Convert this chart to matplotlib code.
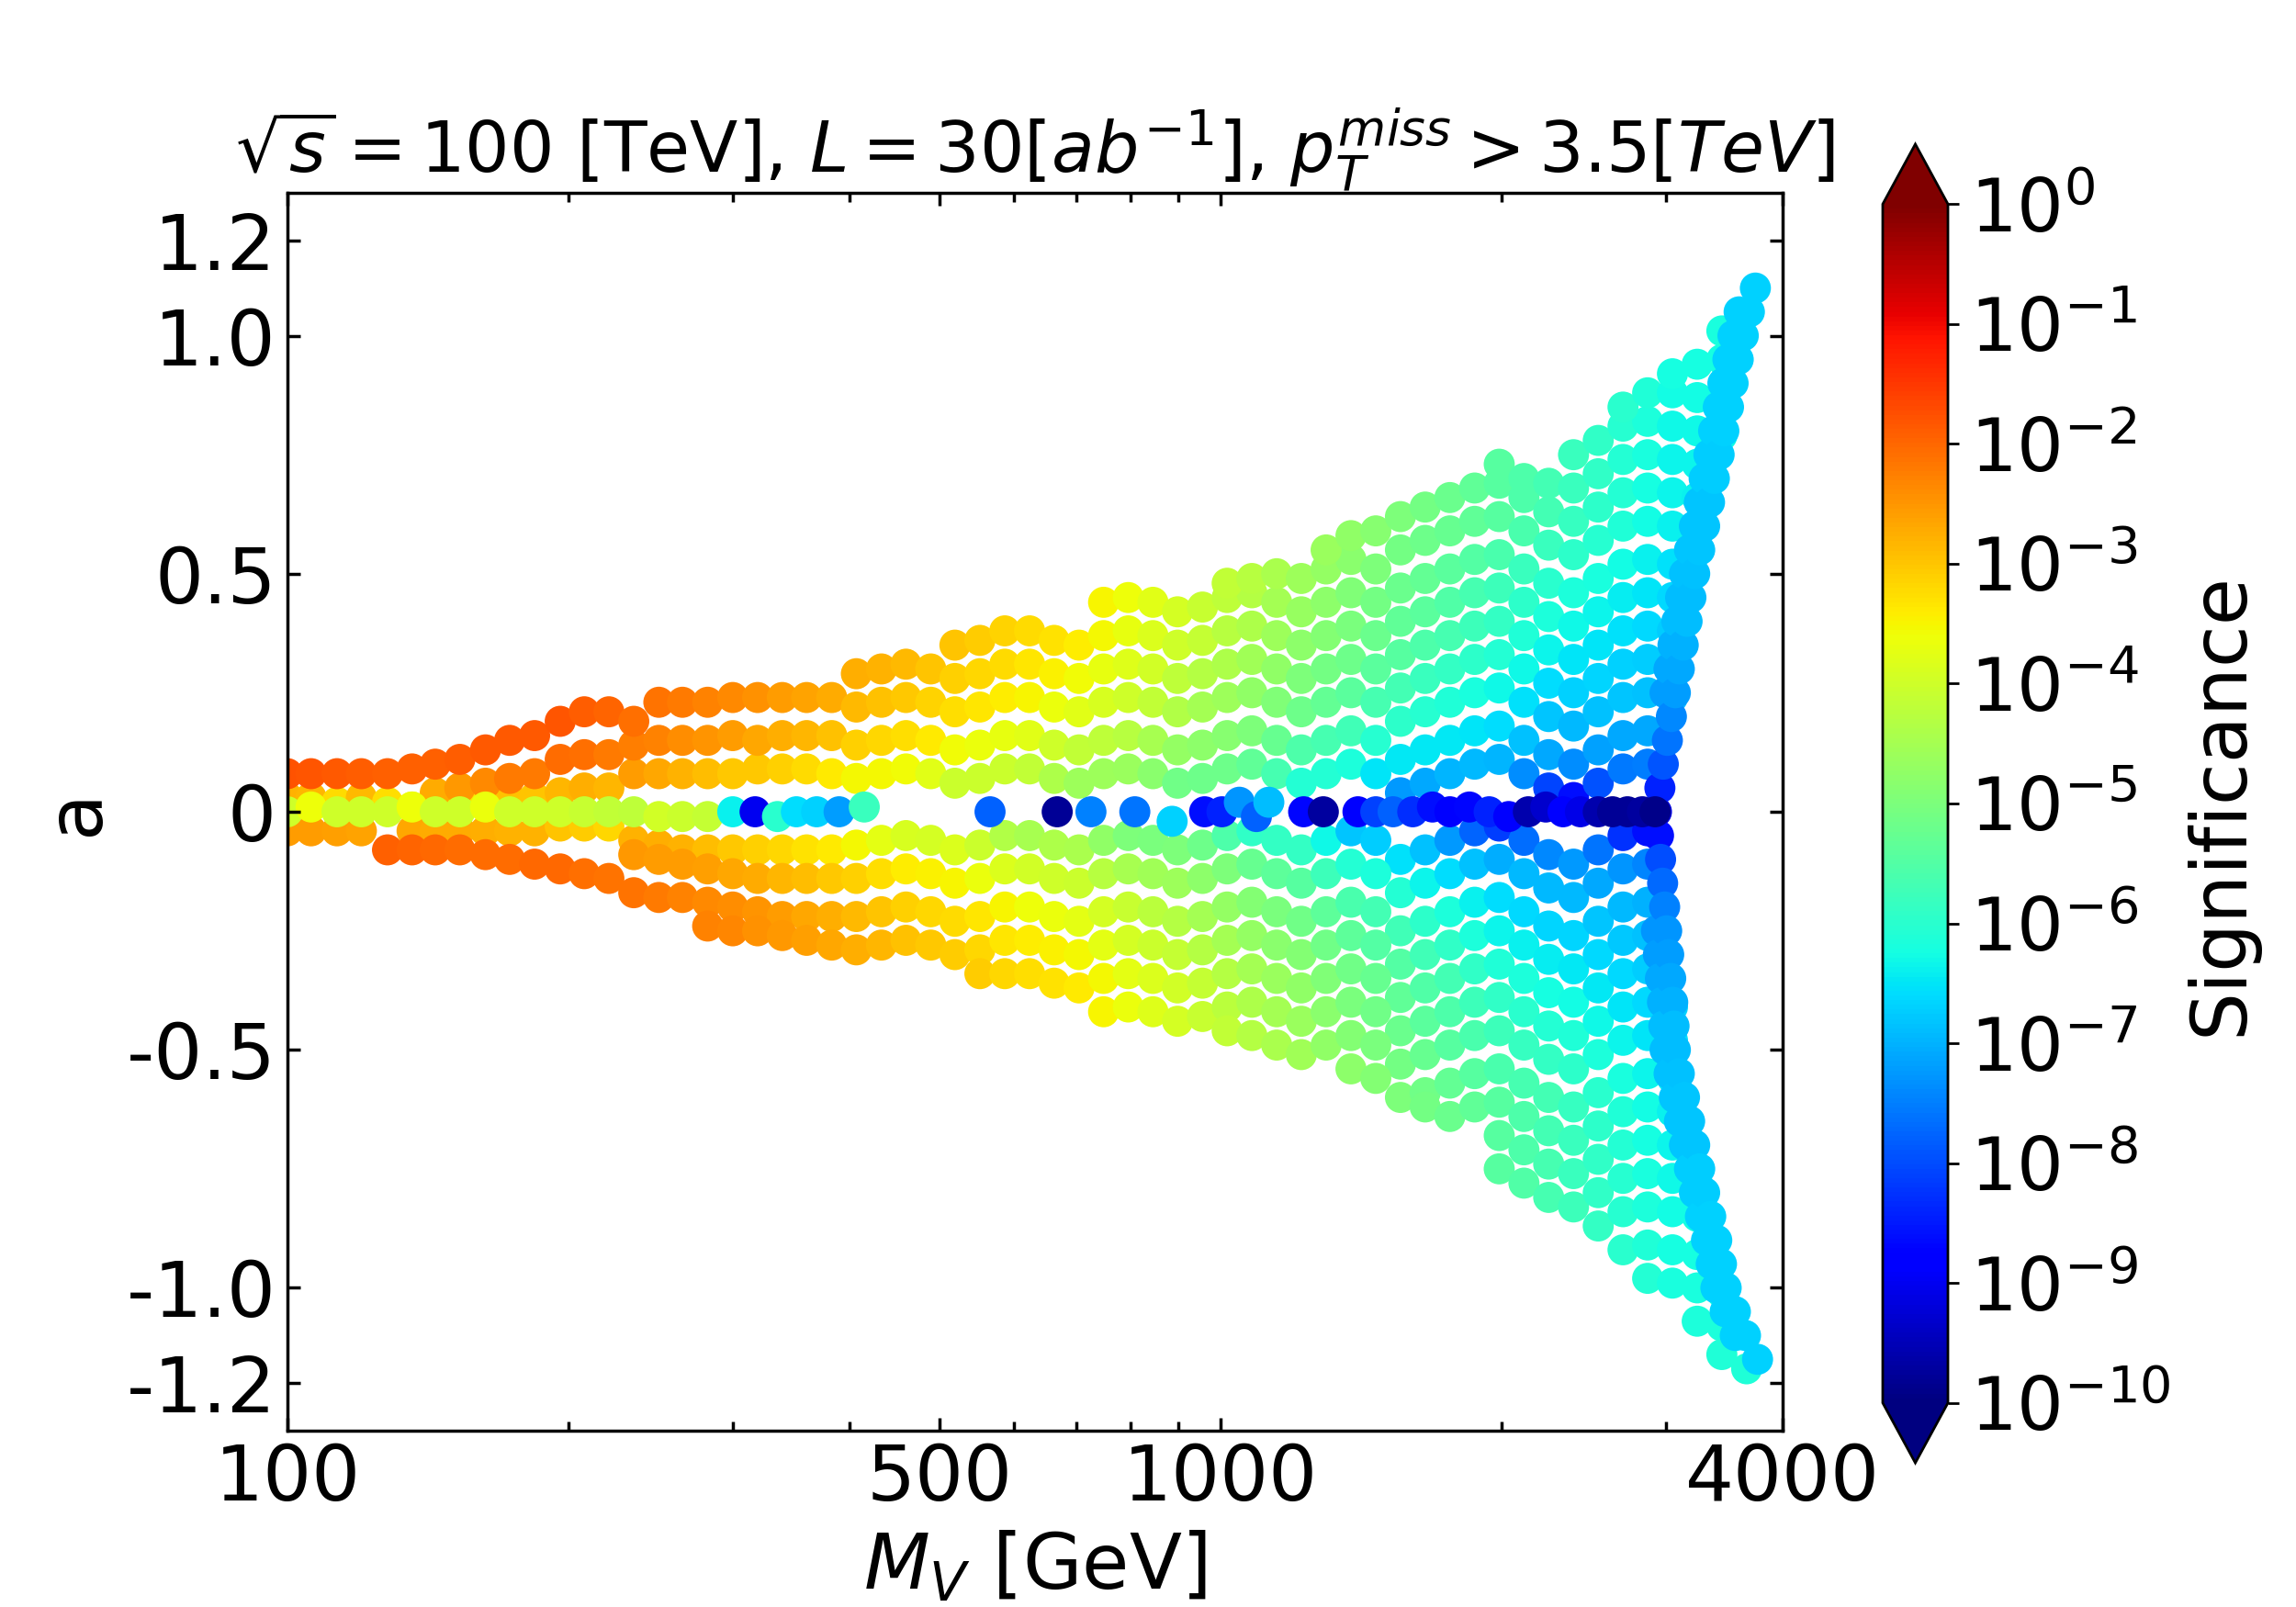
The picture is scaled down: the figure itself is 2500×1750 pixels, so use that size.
import numpy as np
import matplotlib
matplotlib.use("Agg")
import matplotlib.pyplot as plt
from matplotlib.colors import LogNorm
from matplotlib.ticker import NullFormatter, FixedLocator

# ---------------- data ----------------
# M_V scan columns [GeV]
M_cols = [100, 106, 113, 120, 128, 136, 144, 153, 163, 173, 184, 196, 208, 221, 235,
          250, 265, 282, 300, 319, 339, 360, 383, 407, 433, 460, 489, 519, 552, 587,
          624, 663, 705, 749, 796, 846, 899, 956, 1016, 1080, 1148, 1220, 1297, 1379, 1466,
          1558, 1656, 1760, 1871, 1988, 2113, 2246, 2388, 2538, 2698, 2867, 3048, 3240, 3443, 3660]

# rows of points: first scan column index, then a values (in units of 0.01)
a_u01 = [3, 3, 2, 3, 2, 1, 1, 2, 2, 3, 3, 4, 5, 5, 8, 8, 8, 8, 8, 9, 9, 9, 8, 7, 8, 9, 8, 6, 7, 9, 9, 7, 6, 8, 9, 8, 6, 7, 9, 10, 8, 6, 8, 10, 8, 4, 6, 8, 10, 11, 8, 5, 3, 6, 9, 10]
a_u02 = [4, 5, 6, 7, 8, 11, 12, 12, 14, 15, 15, 15, 16, 15, 16, 16, 16, 14, 15, 16, 15, 13, 14, 16, 16, 14, 13, 15, 16, 15, 13, 14, 16, 17, 15, 13, 15, 17, 15, 11, 13, 15, 17, 18, 15, 12, 10, 13, 16, 17]
a_u03 = [8, 8, 8, 8, 8, 9, 10, 11, 13, 15, 16, 19, 21, 21, 19, 23, 23, 23, 24, 24, 24, 24, 24, 22, 23, 24, 23, 21, 22, 24, 24, 22, 21, 23, 24, 23, 21, 22, 24, 25, 23, 21, 23, 25, 23, 19, 21, 23, 25, 26, 23, 20, 18, 21, 24, 25, 24]
a_u04 = [29, 30, 31, 30, 28, 29, 31, 31, 29, 28, 30, 31, 30, 28, 29, 31, 32, 30, 28, 30, 32, 30, 26, 28, 30, 32, 33, 30, 27, 25, 28, 31, 32, 31]
a_u05 = [35, 36, 38, 38, 36, 35, 37, 38, 37, 35, 36, 38, 39, 37, 35, 37, 39, 37, 33, 35, 37, 39, 40, 37, 34, 32, 35, 38, 39, 38]
a_u06 = [44, 45, 44, 42, 43, 45, 46, 44, 42, 44, 46, 44, 40, 42, 44, 46, 47, 44, 41, 39, 42, 45, 46, 45]
a_u07 = [48, 49, 50, 49, 51, 53, 51, 47, 49, 51, 53, 54, 51, 48, 46, 49, 52, 53, 52]
a_u08 = [55, 58, 59, 55, 57, 59, 61, 62, 59, 56, 54, 57, 60, 61, 60, 59]
a_u09 = [62, 64, 66, 68, 69, 66, 63, 61, 64, 67, 68, 67, 66]
a_u10 = [73, 70, 69, 68, 71, 74, 75, 74, 73]
a_u11 = [75, 78, 81, 82, 81, 80, 79]
a_u12 = [85, 88, 88, 87, 86]
a_u13 = [92, 94, 95]
a_u14 = [101]
start_u = [0, 6, 0, 23, 27, 33, 38, 42, 45, 49, 52, 54, 56, 58]

a_l01 = [-4, -4, -4, -4, -4, -4, -3, -3, -3, -6, -7, -8, -8, -8, -8, -8, -8, -8, -7, -6, -5, -6, -8, -7, -5, -5, -7, -8, -6, -5, -6, -8, -7, -5, -4, -6, -8, -6, -4, -6, -10, -8, -6, -4, -3, -6, -9, -11, -8, -5, -4]
a_l02 = [-9, -10, -11, -12, -13, -14, -14, -14, -14, -14, -13, -12, -13, -15, -14, -12, -12, -14, -15, -13, -12, -13, -15, -14, -12, -11, -13, -15, -13, -11, -13, -17, -15, -13, -11, -10, -13, -16, -18, -15, -12, -11]
a_l03 = [-4, -4, -4, -4, -8, -8, -8, -8, -9, -10, -11, -12, -13, -14, -17, -18, -18, -19, -20, -21, -22, -22, -22, -22, -21, -20, -21, -23, -22, -20, -20, -22, -23, -21, -20, -21, -23, -22, -20, -19, -21, -23, -21, -19, -21, -25, -23, -21, -19, -18, -21, -24, -26, -23, -20, -19]
a_l04 = [-24, -25, -25, -26, -27, -28, -29, -28, -27, -28, -30, -29, -27, -27, -29, -30, -28, -27, -28, -30, -29, -27, -26, -28, -30, -28, -26, -28, -32, -30, -28, -26, -25, -28, -31, -33, -30, -27, -26]
a_l05 = [-34, -34, -34, -36, -37, -35, -34, -35, -37, -36, -34, -33, -35, -37, -35, -33, -35, -39, -37, -35, -33, -32, -35, -38, -40, -37, -34, -33]
a_l06 = [-42, -41, -42, -44, -43, -41, -40, -42, -44, -42, -40, -42, -46, -44, -42, -40, -39, -42, -45, -47, -44, -41, -40, -41]
a_l07 = [-46, -47, -49, -51, -49, -47, -49, -53, -51, -49, -47, -46, -49, -52, -54, -51, -48, -47, -48]
a_l08 = [-54, -56, -60, -59, -57, -55, -54, -57, -60, -62, -59, -56, -55, -56]
a_l09 = [-62, -64, -62, -61, -64, -67, -69, -66, -63, -62, -63]
a_l10 = [-68, -71, -74, -76, -73, -70, -69, -70]
a_l11 = [-75, -78, -81, -83, -80, -77, -76, -77, -78]
a_l12 = [-87, -84, -83, -84, -85]
a_l13 = [-92, -91, -92, -93]
a_l14 = [-98, -99, -100, -101]
a_l15 = [-107, -108]
a_l16 = [-114, -117]
start_l = [5, 14, 0, 17, 28, 33, 38, 43, 46, 49, 49, 53, 54, 55, 57, 58]

a_c0 = [0, 1, 0, 0, 0, 1, 0, 0, 1, 0, 0, 0, 0, 0, 0, -1, -1, -1]
start_c0 = 0

# isolated points along a = 0 (M, a in 0.01, log10 significance)
center_M = [300, 317, 335, 351, 369, 390, 415, 566, 668, 726, 809, 887, 961, 1003, 1047, 1092, 1126,
            1227, 1288, 1403, 1466, 1530, 1606, 1686, 1760, 1847, 1939, 2035, 2136, 2230, 2327,
            2429, 2538, 2629, 2728, 2830, 2920]
center_a = [0, 0, -1, 0, 0, 0, 1, 0, 0, 0, 0, -2, 0, 0, 2, -1, 2, 0, 0, 0, 0, 0, 0, 1, 0, 1, 0,
            -1, 0, 1, 0, 0, 0, 0, 0, 0, 0]
center_exp = [-6.4, -9.0, -6.0, -6.6, -6.7, -7.2, -5.8, -7.8, -9.8, -7.5, -7.6, -6.7, -8.6, -8.4,
              -7.3, -7.8, -6.9, -8.7, -9.7, -8.8, -8.1, -7.8, -8.3, -8.6, -8.9, -8.7, -8.4, -8.9,
              -9.6, -9.3, -8.8, -9.1, -9.6, -9.8, -9.8, -9.7, -9.9]

# right-hand boundary of the scan (outer line)
edge_up_M = [2930, 2955, 2980, 3010, 3040, 3070, 3100, 3130, 3160, 3190, 3220, 3260, 3300, 3340,
             3380, 3420, 3460, 3500, 3540, 3585, 3630, 3685, 3740]
edge_up_a = [0, 5, 10, 15, 20, 25, 30, 35, 40, 45, 50, 55, 60, 65, 70, 75, 80, 85, 90, 95, 100, 105, 110]
edge_up_exp = [-9.2, -8.4, -7.9, -7.6, -7.4, -7.2, -7.1, -7.0, -6.9, -6.9, -6.85, -6.8, -6.8, -6.8,
               -6.75, -6.75, -6.7, -6.7, -6.7, -6.7, -6.7, -6.7, -6.7]
edge_lo_M = [2945, 2960, 2975, 2990, 3005, 3020, 3035, 3050, 3060, 3070, 3100, 3140, 3180, 3220,
             3260, 3300, 3350, 3400, 3440, 3480, 3560, 3650, 3760]
edge_lo_a = [-5, -10, -15, -20, -25, -30, -35, -40, -45, -50, -55, -60, -65, -70, -75, -80, -85,
             -90, -95, -100, -105, -110, -115]
edge_lo_exp = [-8.6, -8.0, -7.7, -7.5, -7.3, -7.2, -7.1, -7.0, -6.9, -6.9, -6.85, -6.8, -6.8, -6.8,
               -6.75, -6.75, -6.7, -6.7, -6.7, -6.7, -6.7, -6.7, -6.7]
# inner line of the boundary band
edge2_up_M = [2993, 3022, 3052, 3081, 3110, 3140, 3179, 3218, 3257, 3296, 3335, 3374, 3413, 3452,
              3495, 3539, 3593]
edge2_up_a = [25, 30, 35, 40, 45, 50, 55, 60, 65, 70, 75, 80, 85, 90, 95, 100, 105]
edge2_up_exp = [-7.2, -7.1, -7.0, -6.9, -6.9, -6.85, -6.8, -6.8, -6.8, -6.75, -6.75, -6.7, -6.7,
                -6.7, -6.7, -6.7, -6.7]
edge2_lo_M = [2930, 2944, 2959, 2974, 2984, 2993, 3023, 3062, 3101, 3140, 3179, 3218, 3266, 3315,
              3354, 3393, 3471, 3559]
edge2_lo_a = [-25, -30, -35, -40, -45, -50, -55, -60, -65, -70, -75, -80, -85, -90, -95, -100, -105, -110]
edge2_lo_exp = [-7.3, -7.2, -7.1, -7.0, -6.9, -6.9, -6.85, -6.8, -6.8, -6.8, -6.75, -6.75, -6.7,
                -6.7, -6.7, -6.7, -6.7, -6.7]

# log10(significance): rows = M_V nodes, columns = |a| nodes
sig_M_nodes = [100, 196, 300, 460, 705, 1016, 1558, 2246, 3048]
sig_absa_nodes = [0.0, 0.03, 0.07, 0.12, 0.2, 0.35, 0.6, 1.2]
sig_m100 = [-4.0, -2.8, -1.8, -1.6, -1.5, -1.5, -1.5, -1.5]
sig_m196 = [-4.0, -3.0, -2.3, -2.0, -1.8, -1.8, -1.8, -1.8]
sig_m300 = [-4.5, -3.6, -3.1, -2.7, -2.4, -2.2, -2.2, -2.2]
sig_m460 = [-4.9, -4.1, -3.7, -3.4, -3.1, -2.8, -2.7, -2.7]
sig_m705 = [-5.6, -4.9, -4.5, -4.2, -3.8, -3.4, -3.3, -3.3]
sig_m1016 = [-6.4, -5.8, -5.3, -5.0, -4.7, -4.3, -4.0, -4.0]
sig_m1558 = [-8.0, -7.4, -6.8, -6.4, -5.9, -5.4, -5.0, -5.0]
sig_m2246 = [-9.0, -8.5, -7.6, -7.1, -6.8, -6.3, -5.7, -5.5]
sig_m3048 = [-9.6, -9.0, -7.8, -7.4, -7.0, -6.8, -6.4, -6.1]

# ---------------- assemble ----------------
upper = [a_u01, a_u02, a_u03, a_u04, a_u05, a_u06, a_u07, a_u08, a_u09, a_u10, a_u11, a_u12, a_u13, a_u14]
lower = [a_l01, a_l02, a_l03, a_l04, a_l05, a_l06, a_l07, a_l08, a_l09, a_l10, a_l11, a_l12, a_l13,
         a_l14, a_l15, a_l16]
rows = list(zip(start_u, upper)) + list(zip(start_l, lower)) + [(start_c0, a_c0)]

row_M, row_a = [], []
for s, vals in rows:
    for j, v in enumerate(vals):
        row_M.append(M_cols[s + j])
        row_a.append(v / 100.0)
row_M = np.array(row_M, float)
row_a = np.array(row_a, float)

sig_tables = [sig_m100, sig_m196, sig_m300, sig_m460, sig_m705, sig_m1016, sig_m1558, sig_m2246, sig_m3048]


def lookup_sig(M, a):
    out = []
    lm_nodes = np.log10(sig_M_nodes)
    for m, aa in zip(M, a):
        col = [np.interp(abs(aa), sig_absa_nodes, t) for t in sig_tables]
        out.append(10 ** np.interp(np.log10(m), lm_nodes, col))
    return np.array(out)


row_sig = lookup_sig(row_M, row_a)

edge_M = np.array(edge2_up_M + edge2_lo_M + edge_up_M + edge_lo_M, float)
edge_a = np.array(edge2_up_a + edge2_lo_a + edge_up_a + edge_lo_a, float) / 100.0
edge_sig = 10 ** np.array(edge2_up_exp + edge2_lo_exp + edge_up_exp + edge_lo_exp)

cM = np.array(center_M, float)
ca = np.array(center_a, float) / 100.0
csig = 10 ** np.array(center_exp)

# ---------------- plot ----------------
fig = plt.figure(figsize=(10, 7), dpi=250)
ax = fig.add_axes([0.1252, 0.1097, 0.6512, 0.7703])
cax = fig.add_axes([0.8200, 0.0897, 0.0284, 0.8206])

norm = LogNorm(vmin=1e-10, vmax=1.0)
kw = dict(cmap="jet", norm=norm, s=95, linewidths=0, edgecolors="none")
sc = ax.scatter(row_M, row_a, c=row_sig, **kw)
ax.scatter(edge_M, edge_a, c=edge_sig, **kw)
ax.scatter(cM, ca, c=csig, **kw)

ax.set_xscale("log")
ax.set_xlim(100, 4000)
ax.set_ylim(-1.3, 1.3)
ax.xaxis.set_major_locator(FixedLocator([100, 500, 1000, 4000]))
ax.set_xticklabels(["100", "500", "1000", "4000"])
ax.xaxis.set_minor_formatter(NullFormatter())
ax.set_yticks([-1.2, -1.0, -0.5, 0, 0.5, 1.0, 1.2])
ax.set_yticklabels(["-1.2", "-1.0", "-0.5", "0", "0.5", "1.0", "1.2"])
ax.tick_params(which="both", direction="in", top=True, right=True, labelsize=24, width=1)
ax.tick_params(which="major", length=4)
ax.tick_params(which="minor", length=3)
for sp in ax.spines.values():
    sp.set_linewidth(1.0)

ax.set_xlabel(r"$M_V$ [GeV]", fontsize=24)
ax.set_ylabel("a", fontsize=24)
ax.set_title(r"$\sqrt{s}=100$ [TeV], $L=30[ab^{-1}]$, $p_T^{miss}>3.5[TeV]$", fontsize=22)

cb = fig.colorbar(sc, cax=cax, extend="both")
cb.set_ticks([10.0 ** k for k in range(-10, 1)])
cb.ax.minorticks_off()
cb.ax.tick_params(labelsize=23)
cb.set_label("Significance", fontsize=24)

fig.savefig("out.png", dpi=250)
